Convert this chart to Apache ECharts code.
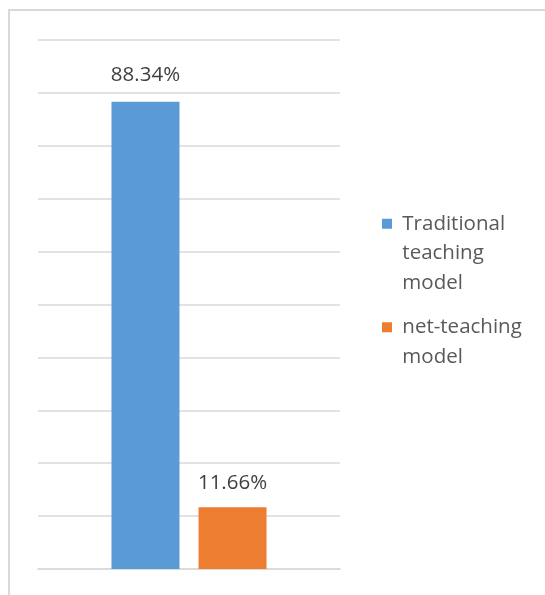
<!DOCTYPE html>
<html><head><meta charset="utf-8">
<script src="https://cdn.jsdelivr.net/npm/echarts@6/dist/echarts.min.js"></script>
<style>html,body{margin:0;padding:0;background:#fff}#c{width:545px;height:595px}</style>
</head><body><div id="c"></div>
<script>
var categories = [''];
var seriesNames = ['Traditional teaching model', 'net-teaching model'];
var traditionalValues = [88.34];
var netValues = [11.66];
var legendLines = [['Traditional', 'teaching', 'model'], ['net-teaching', 'model']];

var chart = echarts.init(document.getElementById('c'));
var font = '"Open Sans", "Liberation Sans", sans-serif';
var lh = 29.5;
function legendFor(i, top) {
  var n = legendLines[i].length;
  var pre = '';
  for (var k = 0; k < n - 1; k++) pre += ' \n';
  return {
    data: [seriesNames[i]],
    orient: 'vertical', left: 382, top: top, padding: 0,
    itemWidth: 10, itemHeight: 10, icon: 'rect',
    selectedMode: false,
    formatter: function () { return pre + legendLines[i].map(function (s) { return ' ' + s; }).join('\n'); },
    textStyle: { fontFamily: font, fontSize: 20.5, color: '#595959', lineHeight: lh }
  };
}
chart.setOption({
  animation: false,
  backgroundColor: '#fff',
  graphic: [{ type: 'rect', shape: { x: 9, y: 10, width: 600, height: 700 }, style: { fill: 'none', stroke: '#d9d9d9', lineWidth: 2 } }],
  grid: { left: 38, right: 205, top: 40, bottom: 26 },
  legend: [legendFor(0, 150), legendFor(1, 283)],
  xAxis: { type: 'category', data: categories, axisLine: { lineStyle: { color: '#d9d9d9', width: 1.5 } }, axisTick: { show: false }, axisLabel: { show: false } },
  yAxis: { type: 'value', min: 0, max: 100, interval: 10, axisLabel: { show: false }, axisLine: { show: false }, axisTick: { show: false }, splitLine: { lineStyle: { color: '#d9d9d9', width: 1.5 } } },
  series: [
    { name: seriesNames[0], type: 'bar', data: traditionalValues, barWidth: 68, barGap: '28%', itemStyle: { color: '#5B9BD5' },
      label: { show: true, position: 'top', distance: 16, formatter: function (p) { return p.value.toFixed(2) + '%'; }, fontFamily: font, fontSize: 20.5, color: '#404040' } },
    { name: seriesNames[1], type: 'bar', data: netValues, barWidth: 68, itemStyle: { color: '#ED7D31' },
      label: { show: true, position: 'top', distance: 14, formatter: function (p) { return p.value.toFixed(2) + '%'; }, fontFamily: font, fontSize: 20.5, color: '#404040' } }
  ]
});
</script></body></html>
